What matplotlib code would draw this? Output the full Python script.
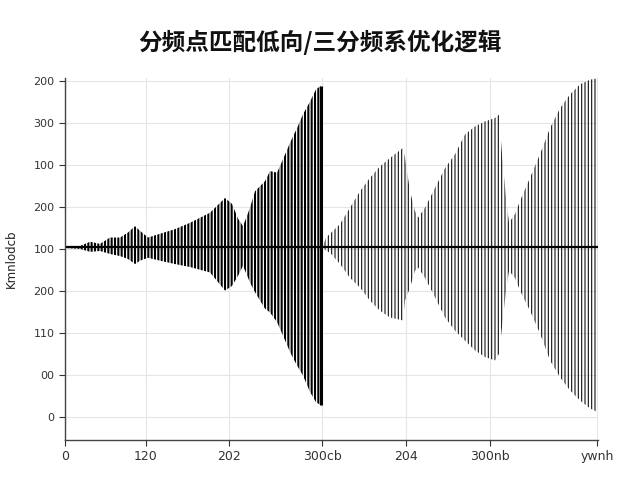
import matplotlib
matplotlib.use("Agg")
import matplotlib.pyplot as plt

plt.rcParams['font.family'] = ['DejaVu Sans', 'Noto Sans CJK SC']

title = "分频点匹配低向/三分频系优化逻辑"
ylabel = "Kmnlodcb"

# tick positions / labels (as printed on the chart)
x_ticks = [0, 81, 164, 257, 341, 425, 532]
x_labels = ['0', '120', '202', '300cb', '204', '300nb', 'ywnh']
y_ticks = [0, 1, 2, 3, 4, 5, 6, 7, 8]
y_labels = ['0', '00', '110', '200', '100', '200', '100', '300', '200']

baseline = 4.05

# envelope of the first (dense) burst
x_left = [0, 15, 25, 35, 45, 55, 63, 70, 75, 83, 95, 110, 125, 145, 160, 167,
          173, 178, 185, 190, 200, 205, 212, 218, 225, 232, 238, 245, 251, 256]
top_left = [4.07, 4.07, 4.17, 4.12, 4.27, 4.27, 4.39, 4.54, 4.43, 4.27, 4.36, 4.47,
            4.62, 4.86, 5.21, 5.07, 4.72, 4.54, 4.98, 5.37, 5.61, 5.85, 5.81, 6.13,
            6.52, 6.87, 7.20, 7.50, 7.79, 7.88]
bot_left = [4.02, 4.00, 3.93, 3.95, 3.88, 3.83, 3.76, 3.64, 3.72, 3.79, 3.72, 3.64,
            3.57, 3.44, 3.01, 3.12, 3.36, 3.60, 3.20, 2.97, 2.58, 2.49, 2.26, 1.94,
            1.55, 1.23, 0.99, 0.60, 0.36, 0.28]

# envelope of the second (sparse) section
x_right = [258, 261, 265, 275, 285, 295, 305, 315, 325, 338, 340, 345, 350, 353,
           360, 370, 380, 390, 400, 410, 420, 430, 434, 437, 441, 444, 450, 455,
           465, 475, 485, 495, 505, 515, 525, 532]
top_right = [4.07, 4.27, 4.36, 4.59, 4.98, 5.37, 5.69, 5.96, 6.16, 6.40, 6.16, 5.37,
             4.90, 4.74, 4.98, 5.45, 5.92, 6.25, 6.72, 6.91, 7.03, 7.11, 7.19, 6.25,
             5.21, 4.62, 4.83, 5.14, 5.69, 6.25, 6.87, 7.34, 7.67, 7.91, 8.02, 8.05]
bot_right = [4.05, 3.95, 3.91, 3.64, 3.31, 3.08, 2.77, 2.53, 2.37, 2.30, 2.77, 3.08,
             3.48, 3.56, 3.31, 2.85, 2.37, 2.06, 1.82, 1.59, 1.43, 1.35, 1.51, 2.14,
             3.01, 3.48, 3.31, 3.01, 2.53, 1.99, 1.35, 0.95, 0.64, 0.40, 0.21, 0.13]

fig = plt.figure(figsize=(6.4, 4.8), dpi=100)
ax = fig.add_axes([0.1016, 0.0833, 0.8328, 0.7542])

ax.set_xticks(x_ticks)
ax.set_xticklabels(x_labels)
ax.set_yticks(y_ticks)
ax.set_yticklabels(y_labels)
ax.grid(True, color='#e6e6e6', linewidth=0.8)
ax.set_axisbelow(True)

fl = ax.fill_between(x_left, bot_left, top_left, facecolor='none',
                     edgecolor='black', linewidth=0, hatch='|' * 5)
fr = ax.fill_between(x_right, bot_right, top_right, facecolor='none',
                     edgecolor='#111111', linewidth=0, hatch='|' * 5)
if hasattr(fl, 'set_hatch_linewidth'):
    fl.set_hatch_linewidth(1.5)
    fr.set_hatch_linewidth(0.8)

# heavy last stripe of the first burst
ax.vlines(x_left[-1], bot_left[-1], top_left[-1], color='black', linewidth=2.2)
ax.axhline(baseline, color='black', linewidth=1.6)

ax.set_xlim(0, 533)
ax.set_ylim(-0.54, 8.06)

for s in ['top', 'right']:
    ax.spines[s].set_visible(False)
for s in ['left', 'bottom']:
    ax.spines[s].set_color('#444444')
    ax.spines[s].set_linewidth(1.0)
ax.tick_params(colors='#333333', labelsize=8, length=4, width=0.8)
ax.tick_params(axis='x', labelsize=9)

ax.set_ylabel(ylabel, fontsize=8.5, color='#222222', labelpad=11)
fig.text(0.5, 0.912, title, ha='center', va='center', fontsize=17,
         fontweight='bold', color='#111111', family=['Noto Sans CJK SC', 'DejaVu Sans'])

fig.savefig("out.png", dpi=100)
